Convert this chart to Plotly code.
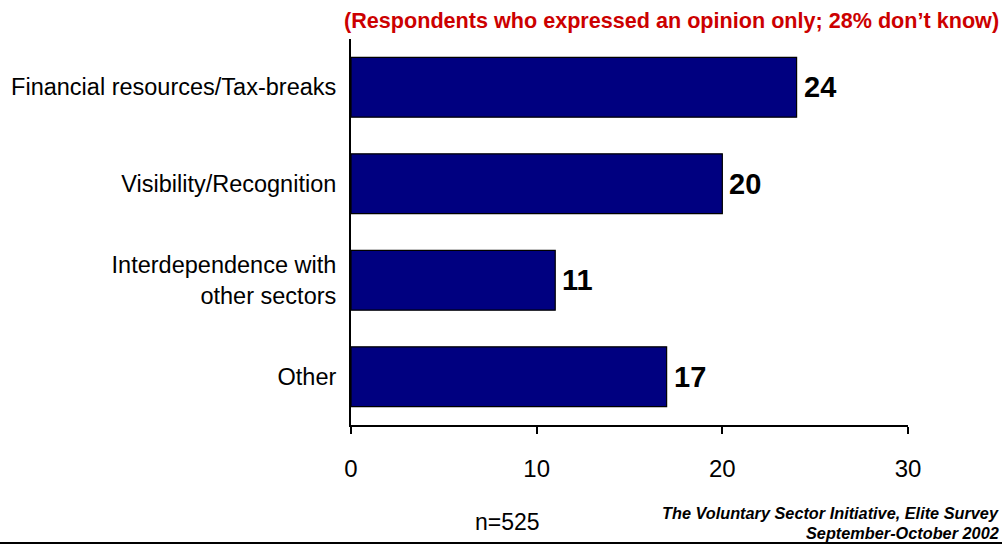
import plotly.graph_objects as go

categories = ["Financial resources/Tax-breaks", "Visibility/Recognition",
              "Interdependence with<br>other sectors", "Other"]
values = [24, 20, 11, 17]
tick_vals = [0, 10, 20, 30]
tick_text = ["0", "10", "20", "30"]

W, H = 1008, 546
L, R, T, B = 351, 100, 39, 121
pw = W - L - R
ph = H - T - B
def px(x):
    return (x - L) / pw
def py(y):
    return (H - B - y) / ph

sans = "Liberation Sans, Arial, sans-serif"

fig = go.Figure(go.Bar(
    x=values, y=categories, orientation="h",
    marker=dict(color="#000080", line=dict(color="black", width=1.2)),
    width=0.62,
    cliponaxis=False,
))

for c, v in zip(categories, values):
    fig.add_annotation(x=v, y=c, text=str(v), xanchor="left", yanchor="middle",
                       xshift=5, showarrow=False,
                       font=dict(family=sans, size=29, color="black", weight="bold"))

fig.update_layout(
    width=W, height=H,
    margin=dict(l=L, r=R, t=T, b=B),
    plot_bgcolor="white", paper_bgcolor="white",
    showlegend=False,
    font=dict(family=sans, color="black"),
)
fig.update_xaxes(range=[0, 30], tickvals=tick_vals, ticktext=tick_text,
                 showgrid=False, zeroline=False, showline=True, linecolor="black", linewidth=2,
                 ticks="outside", ticklen=7, tickwidth=2, tickcolor="black",
                 tickfont=dict(family=sans, size=24), ticklabelstandoff=14,
                 automargin=False)
fig.update_yaxes(categoryorder="array", categoryarray=categories, range=[3.5, -0.5],
                 showgrid=False, showline=True, linecolor="black", linewidth=2,
                 ticks="", tickfont=dict(family=sans, size=23.5), ticklabelstandoff=8,
                 automargin=False)

fig.add_annotation(text="(Respondents who expressed an opinion only; 28% don\u2019t know)",
                   xref="paper", yref="paper", x=px(1001), y=py(20),
                   xanchor="right", yanchor="middle", showarrow=False,
                   font=dict(family=sans, size=21.6, color="#CC0000", weight="bold"))
fig.add_annotation(text="n=525", xref="paper", yref="paper", x=px(507),
                   y=py(522), xanchor="center", yanchor="middle",
                   showarrow=False, font=dict(family=sans, size=23))
fig.add_annotation(text="<i>The Voluntary Sector Initiative, Elite Survey</i>",
                   xref="paper", yref="paper", x=px(1001),
                   y=py(513), xanchor="right", yanchor="middle",
                   showarrow=False, font=dict(family=sans, size=16.3, weight="bold"))
fig.add_annotation(text="<i>September-October 2002</i>",
                   xref="paper", yref="paper", x=px(1001),
                   y=py(533), xanchor="right", yanchor="middle",
                   showarrow=False, font=dict(family=sans, size=16.3, weight="bold"))
fig.add_shape(type="line", xref="paper", yref="paper",
              x0=px(0), x1=px(1002), y0=py(543), y1=py(543),
              line=dict(color="black", width=2))

fig.write_html("out.html")
